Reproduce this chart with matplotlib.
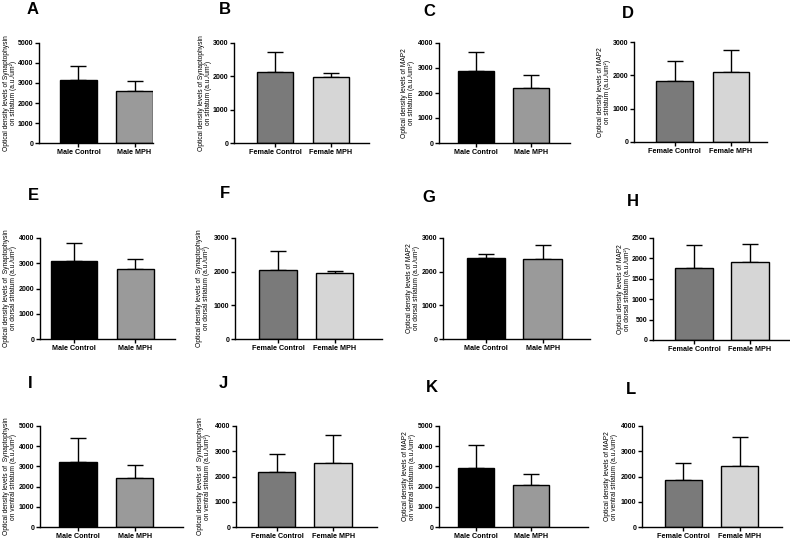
import numpy as np
import matplotlib
matplotlib.use("Agg")
import matplotlib.pyplot as plt

plt.rcParams['font.family'] = ['Liberation Sans', 'DejaVu Sans']

# ---- data ----
male_groups = ["Male Control", "Male MPH"]
female_groups = ["Female Control", "Female MPH"]

a_mean = [3167, 2583]; a_top = [3867, 3117]
b_mean = [2120, 1990]; b_top = [2730, 2090]
c_mean = [2893, 2200]; c_top = [3653, 2707]
d_mean = [1832, 2094]; d_top = [2437, 2749]
e_mean = [3107, 2754]; e_top = [3803, 3186]
f_mean = [2056, 1948]; f_top = [2627, 2007]
g_mean = [2406, 2366]; g_top = [2535, 2792]
h_mean = [1771, 1918]; h_top = [2336, 2353]
i_mean = [3224, 2418]; i_top = [4392, 3076]
j_mean = [2186, 2543]; j_top = [2888, 3630]
k_mean = [2928, 2056]; k_top = [4079, 2648]
l_mean = [1855, 2421]; l_top = [2540, 3566]

lbl_syn = "Optical density levels of Synaptophysin\non striatum (a.u./um²)"
lbl_map = "Optical density levels of MAP2\non striatum (a.u./um²)"
lbl_syn_d = "Optical density levels of  Synaptophysin\non dorsal striatum (a.u./um²)"
lbl_map_d = "Optical density levels of MAP2\non dorsal striatum (a.u./um²)"
lbl_syn_v = "Optical density levels of  Synaptophysin\non ventral striatum (a.u./um²)"
lbl_map_v = "Optical density levels of MAP2\non ventral striatum (a.u./um²)"

male_col = ["#000000", "#9a9a9a"]
female_col = ["#7a7a7a", "#d6d6d6"]

W, H = 790, 542
fig = plt.figure(figsize=(W / 100, H / 100), dpi=100)

# letter, mean, top, groups, colours, ylabel, ymax, step,
# axis px (left, right, top, bottom), xlim, bar widths, letter px, label right edge px
panels = [
    ("A", a_mean, a_top, male_groups, male_col, lbl_syn, 5000, 1000, (39, 153, 43, 143), (-0.705, 1.33), [0.66, 0.66], (33, 10), 17),
    ("B", b_mean, b_top, female_groups, female_col, lbl_syn, 3000, 1000, (234, 369, 43, 143), (-0.745, 1.69), [0.65, 0.65], (225, 9), 212),
    ("C", c_mean, c_top, male_groups, male_col, lbl_map, 4000, 1000, (439, 570, 43, 143), (-0.675, 1.70), [0.65, 0.65], (429, 12), 415),
    ("D", d_mean, d_top, female_groups, female_col, lbl_map, 3000, 1000, (634, 767, 42, 142), (-0.725, 1.645), [0.65, 0.65], (628, 13), 611),
    ("E", e_mean, e_top, male_groups, male_col, lbl_syn_d, 4000, 1000, (40, 175, 238, 339), (-0.56, 1.65), [0.75, 0.61], (33, 195), 17),
    ("F", f_mean, f_top, female_groups, female_col, lbl_syn_d, 3000, 1000, (235, 382, 238, 339), (-0.76, 1.84), [0.66, 0.66], (225, 194), 210),
    ("G", g_mean, g_top, male_groups, male_col, lbl_map_d, 3000, 1000, (443, 590, 238, 339), (-0.767, 1.84), [0.67, 0.68], (429, 198), 420),
    ("H", h_mean, h_top, female_groups, female_col, lbl_map_d, 2500, 500, (653, 789, 238, 340), (-0.737, 1.70), [0.67, 0.68], (633, 201), 631),
    ("I", i_mean, i_top, male_groups, male_col, lbl_syn_v, 5000, 1000, (40, 183, 426, 527), (-0.676, 1.85), [0.67, 0.65], (30, 384), 17),
    ("J", j_mean, j_top, female_groups, female_col, lbl_syn_v, 4000, 1000, (236, 377, 426, 527), (-0.728, 1.78), [0.66, 0.67], (223, 384), 211),
    ("K", k_mean, k_top, male_groups, male_col, lbl_map_v, 5000, 1000, (439, 588, 426, 527), (-0.67, 2.04), [0.66, 0.65], (432, 387), 416),
    ("L", l_mean, l_top, female_groups, female_col, lbl_map_v, 4000, 1000, (642, 782, 426, 527), (-0.73, 1.75), [0.65, 0.66], (631, 390), 618),
]

for letter, mean, top, groups, cols, ylab, ymax, step, px, xl, wid, lp, lab_x in panels:
    l, r, t, b = px
    ax = fig.add_axes([l / W, 1 - b / H, (r - l) / W, (b - t) / H])
    x = np.arange(len(mean))
    err = np.array(top) - np.array(mean)
    ax.bar(x, mean, width=wid, color=cols, edgecolor="black", linewidth=1.0, zorder=2)
    ax.errorbar(x, mean, yerr=[np.zeros(len(err)), err], fmt="none", ecolor="black",
                elinewidth=1.0, capsize=6, capthick=1.0, zorder=1)
    ax.set_xlim(*xl)
    ax.set_ylim(0, ymax)
    ax.set_yticks(np.arange(0, ymax + 1, step))
    ax.set_xticks(x)
    ax.set_xticklabels(groups, fontsize=5.2, fontweight="bold")
    for tl in ax.get_yticklabels():
        tl.set_fontsize(5.0)
        tl.set_fontweight("bold")
    ax.spines["top"].set_visible(False)
    ax.spines["right"].set_visible(False)
    ax.spines["left"].set_linewidth(1.0)
    ax.spines["bottom"].set_linewidth(1.0)
    ax.tick_params(axis="both", length=3, width=1.0, pad=1.5)
    ax.tick_params(axis="y", pad=1.2)
    ax.set_ylabel(ylab, fontsize=4.8, linespacing=1.0)
    ax.yaxis.set_label_coords((lab_x - l) / (r - l), 0.5)
    fig.text(lp[0] / W, 1 - lp[1] / H, letter, fontsize=12, fontweight="bold",
             ha="center", va="center")

fig.savefig("out.png", dpi=100)
